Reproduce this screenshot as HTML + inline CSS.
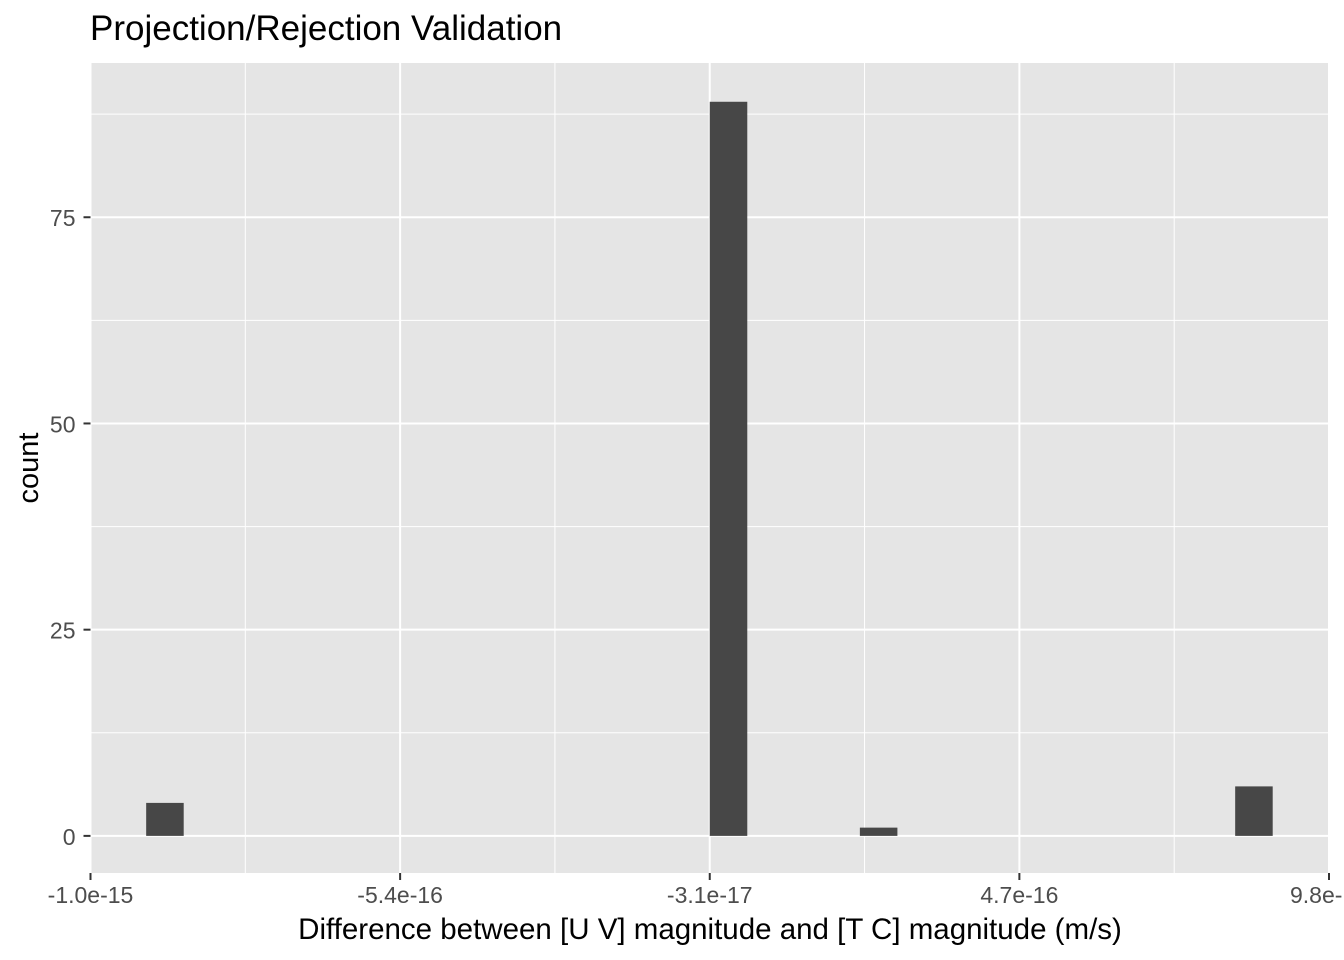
<!DOCTYPE html>
<html><head><meta charset="utf-8"><style>
html,body{margin:0;padding:0;background:#fff;overflow:hidden;width:1344px;height:960px}
text{font-family:"Liberation Sans",Arial,sans-serif}
</style></head><body>
<svg id="chart" width="1344" height="960" xmlns="http://www.w3.org/2000/svg">
<text x="90" y="40" font-size="35" fill="#000">Projection/Rejection Validation</text>
<rect x="90.5" y="63" width="1238.5" height="810" fill="#e5e5e5"/>
<g id="grid"></g><g id="bars"></g><g id="axes"></g>
<text x="710" y="939" font-size="29.5" text-anchor="middle" fill="#000">Difference between [U V] magnitude and [T C] magnitude (m/s)</text>
<text transform="translate(38,468) rotate(-90)" font-size="29" text-anchor="middle" fill="#000">count</text>
</svg>
<script>
// x values in units of 1e-16
const binCenters = [-8.81, 0.2, 2.6, 8.6];
const binCounts = [4, 89, 1, 6];
const binWidth = 0.6;
const xTickValues = [-10, -5.05, -0.1, 4.85, 9.8];
const xTickLabels = ["-1.0e-15", "-5.4e-16", "-3.1e-17", "4.7e-16", "9.8e-16"];
const yTickValues = [0, 25, 50, 75];
const yTickLabels = ["0", "25", "50", "75"];

const ns = "http://www.w3.org/2000/svg";
const X0 = 90.5, X1 = 1329, Y0 = 873, Y1 = 63;
const xd = [-10, 9.8], yd = [-4.5, 93.7];
const sx = v => X0 + (v - xd[0]) / (xd[1] - xd[0]) * (X1 - X0);
const sy = v => Y0 - (v - yd[0]) / (yd[1] - yd[0]) * (Y0 - Y1);
function mk(tag, attrs, parent) {
  const e = document.createElementNS(ns, tag);
  for (const k in attrs) e.setAttribute(k, attrs[k]);
  parent.appendChild(e); return e;
}
const grid = document.getElementById('grid'), bars = document.getElementById('bars'), axes = document.getElementById('axes');
for (let i = 0; i < xTickValues.length - 1; i++) {
  const m = (xTickValues[i] + xTickValues[i + 1]) / 2;
  const l = mk('line', {x1: sx(m), x2: sx(m), y1: Y1, y2: Y0, stroke: '#fff', 'stroke-width': 1}, grid);
  
  
}
for (let i = 0; i < yTickValues.length; i++) {
  const m = yTickValues[i] + 12.5;
  if (m > yd[1]) continue;
  const l = mk('line', {x1: X0, x2: X1, y1: sy(m), y2: sy(m), stroke: '#fff', 'stroke-width': 1}, grid);
  
  
}
xTickValues.forEach((v, i) => {
  const l = mk('line', {x1: sx(v), x2: sx(v), y1: Y1, y2: Y0, stroke: '#fff', 'stroke-width': 2}, grid);
  
  
  const t = mk('line', {x1: sx(v), x2: sx(v), y1: Y0, y2: Y0 + 7, stroke: '#333', 'stroke-width': 2}, axes);
  
  
  const tx = mk('text', {x: sx(v), y: Y0 + 30, 'font-size': 23, 'text-anchor': 'middle', fill: '#4d4d4d'}, axes);
  tx.textContent = xTickLabels[i];
  
  
});
yTickValues.forEach((v, i) => {
  const l = mk('line', {x1: X0, x2: X1, y1: sy(v), y2: sy(v), stroke: '#fff', 'stroke-width': 2}, grid);
  
  
  const t = mk('line', {x1: X0 - 7, x2: X0, y1: sy(v), y2: sy(v), stroke: '#333', 'stroke-width': 2}, axes);
  
  
  const tx = mk('text', {x: X0 - 15, y: sy(v) + 9, 'font-size': 23, 'text-anchor': 'end', fill: '#4d4d4d'}, axes);
  tx.textContent = yTickLabels[i];
  
  
});
binCenters.forEach((c, i) => {
  const x = sx(c - binWidth / 2), w = sx(c + binWidth / 2) - x;
  const r = mk('rect', {x: x, y: sy(binCounts[i]), width: w, height: sy(0) - sy(binCounts[i]), fill: '#474747'}, bars);
  
  
});
</script>
</body></html>
